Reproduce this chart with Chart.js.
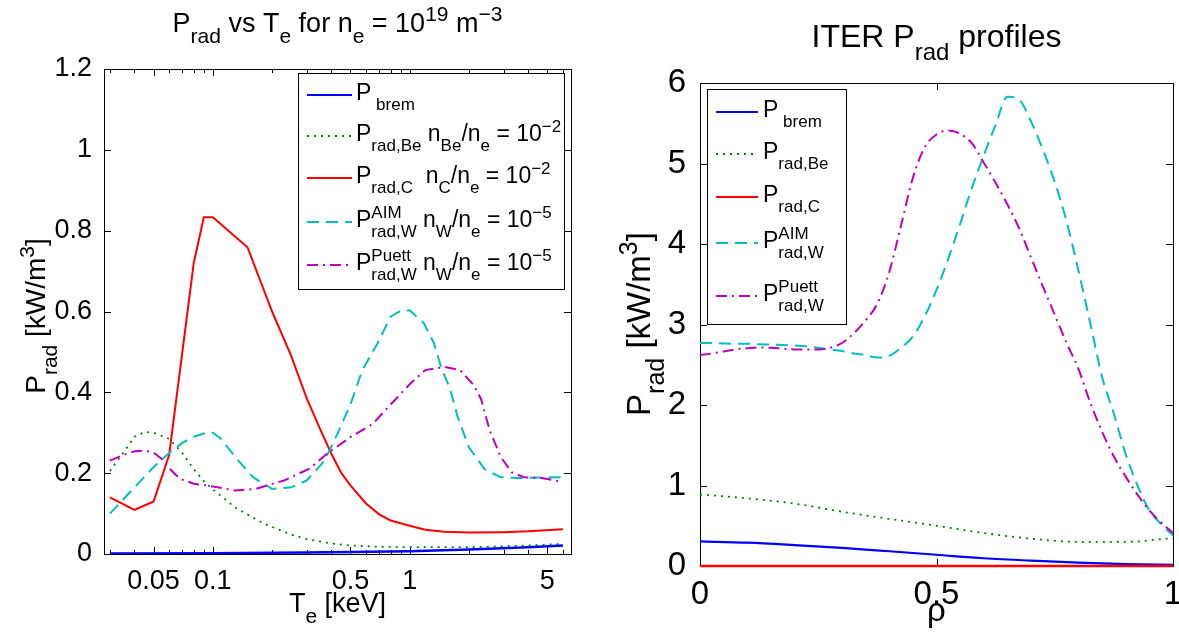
<!DOCTYPE html>
<html>
<head>
<meta charset="utf-8">
<script src="https://cdn.jsdelivr.net/npm/chart.js@4.4.1/dist/chart.umd.min.js"></script>
<style>
  body { margin: 0; background: #fff; }
  #wrap { position: relative; width: 1179px; height: 635px; }
  canvas { position: absolute; top: 0; }
</style>
</head>
<body>
<div id="wrap">
  <canvas id="left" width="590" height="635" style="left:0"></canvas>
  <canvas id="right" width="589" height="635" style="left:590px"></canvas>
</div>
<script>
// ---- left panel: Prad vs Te (keV), ne = 1e19 m^-3 ----
const tBrem = [0.03, 0.1, 0.3, 0.5, 1, 2, 4, 6];
const pBrem = [0.001, 0.002, 0.004, 0.005, 0.007, 0.011, 0.017, 0.021];

const tBe = [0.03, 0.035, 0.04, 0.045, 0.05, 0.06, 0.07, 0.08, 0.09, 0.1, 0.13, 0.18, 0.25, 0.3, 0.4, 0.5, 0.7, 1, 2, 3, 4, 6];
const pBe = [0.205, 0.25, 0.29, 0.302, 0.30, 0.285, 0.25, 0.21, 0.18, 0.16, 0.115, 0.076, 0.048, 0.037, 0.026, 0.021, 0.018, 0.017, 0.017, 0.019, 0.021, 0.025];

const tC = [0.03, 0.04, 0.05, 0.06, 0.08, 0.09, 0.1, 0.15, 0.2, 0.25, 0.3, 0.35, 0.4, 0.45, 0.5, 0.6, 0.7, 0.8, 1, 1.2, 1.5, 2, 3, 4, 6];
const pC = [0.14, 0.109, 0.13, 0.245, 0.72, 0.833, 0.833, 0.759, 0.60, 0.49, 0.385, 0.31, 0.248, 0.20, 0.17, 0.125, 0.098, 0.083, 0.07, 0.06, 0.055, 0.053, 0.054, 0.056, 0.061];

const tAim = [0.03, 0.04, 0.05, 0.06, 0.07, 0.08, 0.09, 0.1, 0.11, 0.13, 0.16, 0.2, 0.25, 0.3, 0.37, 0.43, 0.5, 0.575, 0.686, 0.8, 0.9, 1.0, 1.18, 1.33, 1.45, 1.6, 1.75, 2.0, 2.4, 2.9, 3.5, 6];
const pAim = [0.10, 0.165, 0.215, 0.25, 0.275, 0.29, 0.298, 0.30, 0.285, 0.24, 0.19, 0.161, 0.165, 0.182, 0.231, 0.298, 0.37, 0.455, 0.521, 0.587, 0.602, 0.603, 0.571, 0.521, 0.46, 0.41, 0.34, 0.264, 0.21, 0.19, 0.188, 0.19];

const tPuett = [0.03, 0.035, 0.04, 0.045, 0.05, 0.055, 0.06, 0.068, 0.08, 0.1, 0.13, 0.165, 0.23, 0.31, 0.38, 0.5, 0.65, 0.8, 1.0, 1.2, 1.5, 1.8, 2.1, 2.3, 2.55, 2.9, 3.3, 3.8, 4.7, 5.75, 6];
const pPuett = [0.231, 0.245, 0.254, 0.256, 0.251, 0.235, 0.212, 0.186, 0.174, 0.167, 0.157, 0.161, 0.182, 0.211, 0.248, 0.289, 0.322, 0.37, 0.42, 0.455, 0.463, 0.455, 0.42, 0.385, 0.306, 0.24, 0.202, 0.19, 0.188, 0.18, 0.178];

const leftXTicks = [0.05, 0.1, 0.5, 1, 5];
const leftYTicks = [0, 0.2, 0.4, 0.6, 0.8, 1, 1.2];

// ---- right panel: ITER profiles vs rho ----
const rhoCoarse = [0, 0.1, 0.2, 0.3, 0.4, 0.5, 0.6, 0.7, 0.8, 0.9, 1.0];
const iterBrem = [0.305, 0.29, 0.26, 0.225, 0.183, 0.14, 0.096, 0.066, 0.042, 0.024, 0.013];
const iterBe = [0.89, 0.84, 0.775, 0.675, 0.585, 0.50, 0.41, 0.34, 0.30, 0.30, 0.347];
const iterC = [0, 0, 0, 0, 0, 0, 0, 0, 0, 0, 0];

const rhoFine = [0, 0.025, 0.05, 0.075, 0.1, 0.125, 0.15, 0.175, 0.2, 0.225, 0.25, 0.275, 0.3, 0.325, 0.35, 0.375, 0.4, 0.425, 0.45, 0.475, 0.5, 0.525, 0.55, 0.575, 0.6, 0.625, 0.65, 0.675, 0.7, 0.725, 0.75, 0.775, 0.8, 0.825, 0.85, 0.875, 0.9, 0.925, 0.95, 0.975, 1.0];
const iterAim = [2.77, 2.77, 2.765, 2.76, 2.76, 2.755, 2.75, 2.745, 2.74, 2.73, 2.71, 2.69, 2.67, 2.64, 2.62, 2.59, 2.61, 2.71, 2.85, 3.10, 3.43, 3.82, 4.25, 4.70, 5.10, 5.48, 5.83, 5.79, 5.52, 5.17, 4.77, 4.28, 3.67, 3.02, 2.35, 1.89, 1.39, 1.0, 0.69, 0.52, 0.38];
const iterPuett = [2.62, 2.64, 2.665, 2.69, 2.705, 2.715, 2.71, 2.70, 2.69, 2.69, 2.69, 2.71, 2.77, 2.89, 3.05, 3.26, 3.65, 4.23, 4.82, 5.20, 5.36, 5.41, 5.37, 5.25, 5.01, 4.76, 4.49, 4.19, 3.83, 3.47, 3.12, 2.77, 2.45, 2.03, 1.67, 1.36, 1.11, 0.885, 0.69, 0.54, 0.41];

const rightXTicks = [0, 0.5, 1];
const rightYTicks = [0, 1, 2, 3, 4, 5, 6];

const FONT = '"Liberation Sans", Arial, Helvetica, sans-serif';
const BLUE = 'rgb(0,0,255)', GREEN = 'rgb(0,128,0)', RED = 'rgb(255,0,0)';
const CYAN = 'rgb(0,191,191)', MAGENTA = 'rgb(191,0,191)';
const DOT = [2, 5], DASH = [12, 7], DASHDOT = [11, 5, 2, 5];
const SUBRATIO = 0.76;

function pts(xs, ys) {
  return xs.map((x, i) => ({ x: x, y: ys[i] }));
}

// text with sub/superscripts: [{t}, {sub}, {sup}, {sub, sup}]
function richWidth(ctx, segs, size) {
  let w = 0;
  for (const s of segs) {
    if (s.t !== undefined) {
      ctx.font = size + 'px ' + FONT;
      w += ctx.measureText(s.t).width;
    } else {
      ctx.font = Math.round(size * SUBRATIO) + 'px ' + FONT;
      const a = s.sub ? ctx.measureText(s.sub).width : 0;
      const b = s.sup ? ctx.measureText(s.sup).width : 0;
      w += Math.max(a, b);
    }
  }
  return w;
}
function drawRich(ctx, segs, x, y, size, align) {
  ctx.save();
  ctx.fillStyle = '#000';
  ctx.textBaseline = 'alphabetic';
  ctx.textAlign = 'left';
  let cx = align === 'center' ? x - richWidth(ctx, segs, size) / 2 : x;
  for (const s of segs) {
    if (s.t !== undefined) {
      ctx.font = size + 'px ' + FONT;
      ctx.fillText(s.t, cx, y);
      cx += ctx.measureText(s.t).width;
    } else {
      ctx.font = Math.round(size * SUBRATIO) + 'px ' + FONT;
      let w = 0;
      if (s.sub) { ctx.fillText(s.sub, cx, y + size * 0.42); w = ctx.measureText(s.sub).width; }
      if (s.sup) { ctx.fillText(s.sup, cx, y - size * 0.4); w = Math.max(w, ctx.measureText(s.sup).width); }
      cx += w;
    }
  }
  ctx.restore();
}

// matlab style box + inward ticks, drawn under the data
function boxPlugin(minorTicks) {
  return {
    id: 'mbox',
    beforeDatasetsDraw(chart) {
      const ctx = chart.ctx, a = chart.chartArea;
      const xs = chart.scales.x, ys = chart.scales.y;
      ctx.save();
      ctx.strokeStyle = '#000';
      ctx.lineWidth = 1;
      ctx.strokeRect(Math.round(a.left) + 0.5, Math.round(a.top) + 0.5, Math.round(a.right - a.left), Math.round(a.bottom - a.top));
      ctx.beginPath();
      const tick = (px, len) => {
        px = Math.round(px) + 0.5;
        ctx.moveTo(px, a.bottom); ctx.lineTo(px, a.bottom - len);
        ctx.moveTo(px, a.top); ctx.lineTo(px, a.top + len);
      };
      xs.ticks.forEach(t => tick(xs.getPixelForValue(t.value), 7));
      (minorTicks || []).forEach(v => tick(xs.getPixelForValue(v), 4));
      ys.ticks.forEach(t => {
        const py = Math.round(ys.getPixelForValue(t.value)) + 0.5;
        ctx.moveTo(a.left, py); ctx.lineTo(a.left + 7, py);
        ctx.moveTo(a.right, py); ctx.lineTo(a.right - 7, py);
      });
      ctx.stroke();
      ctx.restore();
    }
  };
}

function textPlugin(cfg) {
  return {
    id: 'mtext',
    afterDraw(chart) {
      const ctx = chart.ctx, a = chart.chartArea;
      const cx = (a.left + a.right) / 2;
      drawRich(ctx, cfg.title, cx, cfg.titleY, cfg.titleSize, 'center');
      drawRich(ctx, cfg.xlabel, cx, cfg.xlabelY, cfg.labelSize, 'center');
      ctx.save();
      ctx.translate(cfg.ylabelX, cfg.ylabelY);
      ctx.rotate(-Math.PI / 2);
      drawRich(ctx, cfg.ylabel, 0, 0, cfg.ylabelSize, 'center');
      ctx.restore();
      // legend
      const L = cfg.legend;
      ctx.save();
      ctx.fillStyle = '#fff';
      ctx.fillRect(L.x0, L.y0, L.x1 - L.x0, L.y1 - L.y0);
      ctx.strokeStyle = '#000';
      ctx.lineWidth = 1;
      ctx.strokeRect(L.x0 + 0.5, L.y0 + 0.5, L.x1 - L.x0, L.y1 - L.y0);
      chart.data.datasets.forEach((ds, i) => {
        const ly = L.rows[i];
        ctx.beginPath();
        ctx.strokeStyle = ds.borderColor;
        ctx.lineWidth = 2;
        ctx.setLineDash(ds.borderDash || []);
        ctx.moveTo(L.lx0, ly); ctx.lineTo(L.lx1, ly);
        ctx.stroke();
        ctx.setLineDash([]);
        drawRich(ctx, L.labels[i], L.tx, ly + 5, L.size, 'left');
      });
      ctx.restore();
    }
  };
}

function fixedTicks(list) {
  return function (scale) { scale.ticks = list.map(v => ({ value: v })); };
}
function fitX(h) {
  return function (s) { s.height = h; s.paddingLeft = 0; s.paddingRight = 0; };
}
function fitY(w) {
  return function (s) { s.width = w; s.paddingTop = 0; s.paddingBottom = 0; };
}

const yLabel = [{ t: 'P' }, { sub: 'rad' }, { t: ' [kW/m' }, { sup: '3' }, { t: ']' }];

// ---- left chart ----
const leftMinor = [];
[0.01, 0.1, 1].forEach(d => { for (let k = 2; k <= 9; k++) { const v = d * k; if (v > 0.028 && v < 6.6 && k !== 5) leftMinor.push(v); } });

new Chart(document.getElementById('left'), {
  type: 'line',
  data: {
    datasets: [
      { data: pts(tBrem, pBrem), borderColor: BLUE, borderWidth: 2.5, order: 5 },
      { data: pts(tBe, pBe), borderColor: GREEN, borderWidth: 1.8, borderDash: DOT, order: 4 },
      { data: pts(tC, pC), borderColor: RED, borderWidth: 2, order: 3 },
      { data: pts(tAim, pAim), borderColor: CYAN, borderWidth: 2, borderDash: DASH, order: 2 },
      { data: pts(tPuett, pPuett), borderColor: MAGENTA, borderWidth: 2, borderDash: DASHDOT, order: 1 }
    ]
  },
  options: {
    responsive: false,
    animation: false,
    devicePixelRatio: 1,
    layout: { padding: { top: 69, right: 19, left: 0, bottom: 0 } },
    elements: { point: { radius: 0 }, line: { tension: 0, fill: false } },
    plugins: { legend: { display: false }, tooltip: { enabled: false } },
    scales: {
      x: {
        type: 'logarithmic', min: 0.028, max: 6.6,
        grid: { display: false }, border: { display: false },
        afterBuildTicks: fixedTicks(leftXTicks),
        afterFit: fitX(81),
        ticks: { color: '#000', font: { family: FONT, size: 27 }, maxRotation: 0, autoSkip: false, padding: 3, callback: v => String(v) }
      },
      y: {
        min: 0, max: 1.2,
        grid: { display: false }, border: { display: false },
        afterBuildTicks: fixedTicks(leftYTicks),
        afterFit: fitY(104),
        ticks: { color: '#000', font: { family: FONT, size: 27 }, padding: 4, callback: v => String(v) }
      }
    }
  },
  plugins: [boxPlugin(leftMinor), textPlugin({
    title: [{ t: 'P' }, { sub: 'rad' }, { t: ' vs T' }, { sub: 'e' }, { t: ' for n' }, { sub: 'e' }, { t: ' = 10' }, { sup: '19' }, { t: ' m' }, { sup: '\u22123' }],
    titleY: 32, titleSize: 27,
    xlabel: [{ t: 'T' }, { sub: 'e' }, { t: ' [keV]' }],
    xlabelY: 612, labelSize: 27,
    ylabel: yLabel, ylabelX: 45, ylabelY: 316, ylabelSize: 28,
    legend: {
      x0: 298, x1: 564, y0: 73, y1: 289, lx0: 307, lx1: 352, tx: 356, size: 23,
      rows: [95, 136, 178, 222, 265],
      labels: [
        [{ t: 'P' }, { sub: ' brem' }],
        [{ t: 'P' }, { sub: 'rad,Be' }, { t: ' n' }, { sub: 'Be' }, { t: '/n' }, { sub: 'e' }, { t: ' = 10' }, { sup: '\u22122' }],
        [{ t: 'P' }, { sub: 'rad,C' }, { t: '  n' }, { sub: 'C' }, { t: '/n' }, { sub: 'e' }, { t: ' = 10' }, { sup: '\u22122' }],
        [{ t: 'P' }, { sup: 'AIM', sub: 'rad,W' }, { t: ' n' }, { sub: 'W' }, { t: '/n' }, { sub: 'e' }, { t: ' = 10' }, { sup: '\u22125' }],
        [{ t: 'P' }, { sup: 'Puett', sub: 'rad,W' }, { t: ' n' }, { sub: 'W' }, { t: '/n' }, { sub: 'e' }, { t: ' = 10' }, { sup: '\u22125' }]
      ]
    }
  })]
});

// ---- right chart ----
new Chart(document.getElementById('right'), {
  type: 'line',
  data: {
    datasets: [
      { data: pts(rhoCoarse, iterBrem), borderColor: BLUE, borderWidth: 2.2, order: 5 },
      { data: pts(rhoCoarse, iterBe), borderColor: GREEN, borderWidth: 1.8, borderDash: DOT, order: 4 },
      { data: pts(rhoCoarse, iterC), borderColor: RED, borderWidth: 2.5, order: 3, clip: 4 },
      { data: pts(rhoFine, iterAim), borderColor: CYAN, borderWidth: 2, borderDash: DASH, order: 2 },
      { data: pts(rhoFine, iterPuett), borderColor: MAGENTA, borderWidth: 2, borderDash: DASHDOT, order: 1 }
    ]
  },
  options: {
    responsive: false,
    animation: false,
    devicePixelRatio: 1,
    layout: { padding: { top: 83, right: 6, left: 0, bottom: 0 } },
    elements: { point: { radius: 0 }, line: { cubicInterpolationMode: 'monotone', fill: false } },
    plugins: { legend: { display: false }, tooltip: { enabled: false } },
    scales: {
      x: {
        type: 'linear', min: 0, max: 1,
        grid: { display: false }, border: { display: false },
        afterBuildTicks: fixedTicks(rightXTicks),
        afterFit: fitX(69),
        ticks: { color: '#000', font: { family: FONT, size: 33 }, maxRotation: 0, autoSkip: false, padding: 1, callback: v => String(v) }
      },
      y: {
        min: 0, max: 6,
        grid: { display: false }, border: { display: false },
        afterBuildTicks: fixedTicks(rightYTicks),
        afterFit: fitY(110),
        ticks: { color: '#000', font: { family: FONT, size: 33 }, padding: 6, callback: v => String(v) }
      }
    }
  },
  plugins: [boxPlugin([]), textPlugin({
    title: [{ t: 'ITER P' }, { sub: 'rad' }, { t: ' profiles' }],
    titleY: 47, titleSize: 32,
    xlabel: [{ t: '\u03c1' }],
    xlabelY: 621, labelSize: 33,
    ylabel: yLabel, ylabelX: 60, ylabelY: 324, ylabelSize: 33,
    legend: {
      x0: 117, x1: 256, y0: 89, y1: 324, lx0: 126, lx1: 168, tx: 173, size: 23,
      rows: [112, 154, 197, 243, 296],
      labels: [
        [{ t: 'P' }, { sub: ' brem' }],
        [{ t: 'P' }, { sub: 'rad,Be' }],
        [{ t: 'P' }, { sub: 'rad,C' }],
        [{ t: 'P' }, { sup: 'AIM', sub: 'rad,W' }],
        [{ t: 'P' }, { sup: 'Puett', sub: 'rad,W' }]
      ]
    }
  })]
});
</script>
</body>
</html>
